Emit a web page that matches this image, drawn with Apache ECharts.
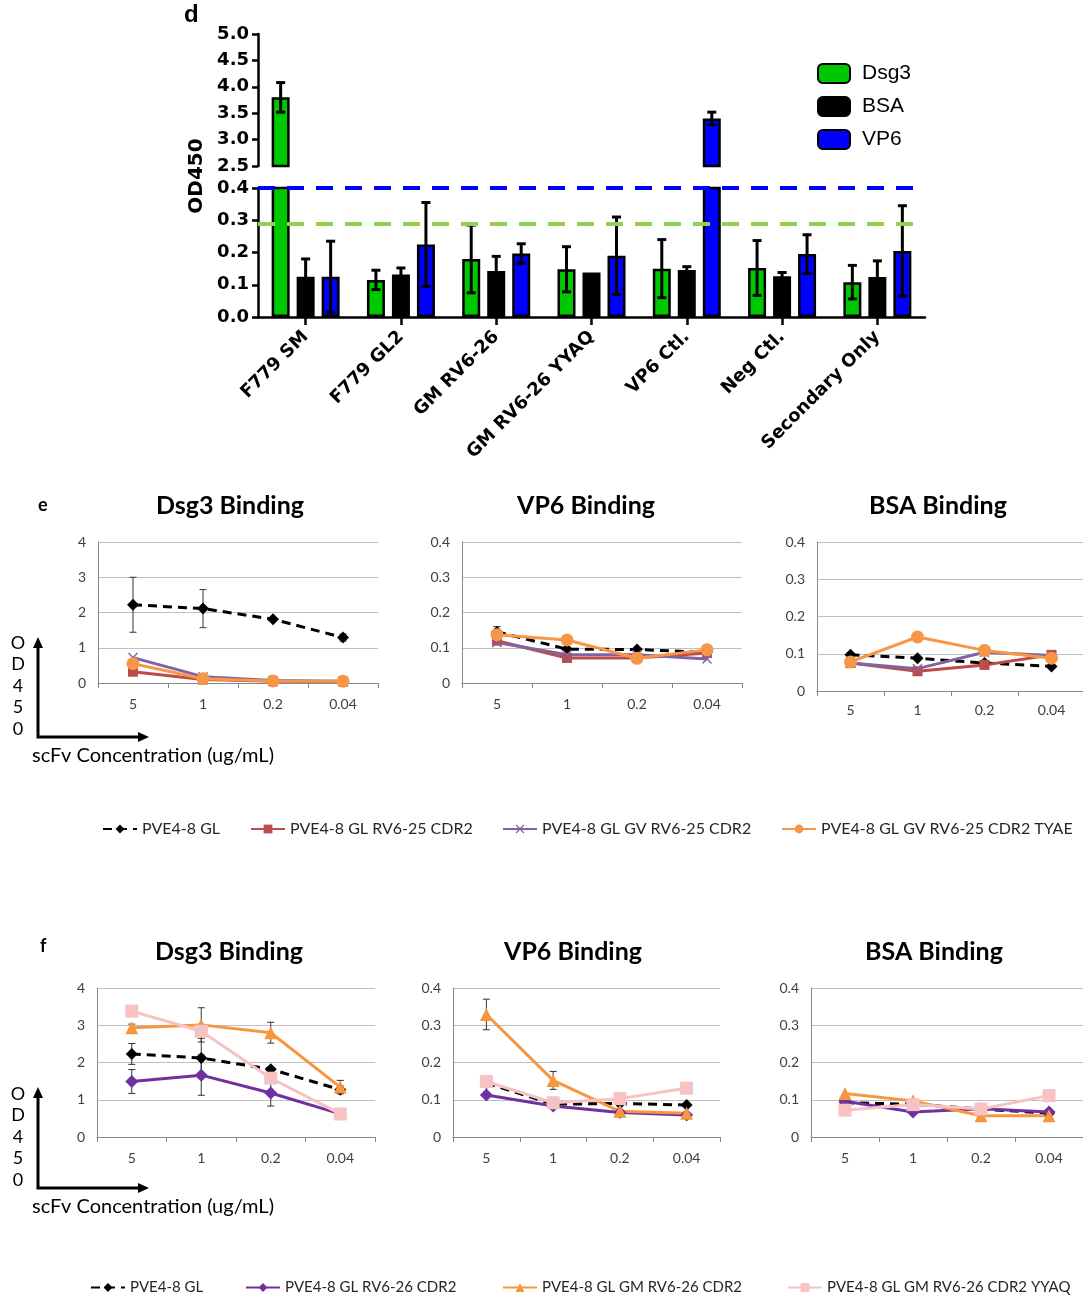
<!DOCTYPE html>
<html>
<head>
<meta charset="utf-8">
<script src="https://cdn.jsdelivr.net/npm/echarts@6/dist/echarts.min.js"></script>
<style>
  html, body { margin: 0; padding: 0; background: #fff; }
  #chart { width: 1083px; height: 1295px; }
</style>
</head>
<body>
<div id="chart"></div>
<script>
// ---------- panel d: ELISA screen (OD450) ----------
const sampleNames = ['F779 SM', 'F779 GL2', 'GM RV6-26', 'GM RV6-26 YYAQ', 'VP6 Ctl.', 'Neg Ctl.', 'Secondary Only'];
const dsg3Mean = [3.80, 0.115, 0.180, 0.148, 0.150, 0.152, 0.108];
const dsg3Err  = [0.28, 0.030, 0.105, 0.070, 0.090, 0.085, 0.052];
const bsaMean  = [0.125, 0.132, 0.143, 0.138, 0.146, 0.126, 0.124];
const bsaErr   = [0.055, 0.020, 0.045, 0.000, 0.010, 0.012, 0.050];
const vp6Mean  = [0.125, 0.225, 0.197, 0.190, 3.40, 0.195, 0.205];
const vp6Err   = [0.110, 0.130, 0.030, 0.120, 0.12, 0.060, 0.140];
const dsg3Cutoff = 0.295;
const vp6Cutoff = 0.4;
const upperTicks = [2.5, 5.0];   // upper segment of the broken axis
const lowerTicks = [0.0, 0.4];   // lower segment of the broken axis

// ---------- panels e / f: titration curves ----------
const concLabels = ['5', '1', '0.2', '0.04'];

const eNames = ['PVE4-8 GL', 'PVE4-8 GL RV6-25 CDR2', 'PVE4-8 GL GV RV6-25 CDR2', 'PVE4-8 GL GV RV6-25 CDR2 TYAE'];
const eDsg3GL   = [2.22, 2.11, 1.81, 1.29];
const eDsg3GLErr = [0.78, 0.54, 0.05, 0.10];
const eDsg3CDR2 = [0.32, 0.10, 0.05, 0.04];
const eDsg3GV   = [0.72, 0.18, 0.07, 0.05];
const eDsg3TYAE = [0.55, 0.12, 0.06, 0.05];
const eVP6GL    = [0.145, 0.096, 0.095, 0.087];
const eVP6GLErr = [0.015, 0, 0, 0];
const eVP6CDR2  = [0.120, 0.071, 0.071, 0.085];
const eVP6GV    = [0.115, 0.080, 0.080, 0.068];
const eVP6TYAE  = [0.137, 0.122, 0.070, 0.094];
const eBSAGL    = [0.097, 0.088, 0.075, 0.066];
const eBSACDR2  = [0.075, 0.053, 0.070, 0.097];
const eBSAGV    = [0.075, 0.060, 0.104, 0.095];
const eBSATYAE  = [0.078, 0.145, 0.109, 0.088];

const fNames = ['PVE4-8 GL', 'PVE4-8 GL RV6-26 CDR2', 'PVE4-8 GL GM RV6-26 CDR2', 'PVE4-8 GL GM RV6-26 CDR2 YYAQ'];
const fDsg3GL     = [2.23, 2.12, 1.82, 1.27];
const fDsg3GLErr  = [0.28, 0.53, 0.05, 0.10];
const fDsg3CDR2   = [1.49, 1.66, 1.18, 0.62];
const fDsg3CDR2Err = [0.32, 0.54, 0.35, 0];
const fDsg3GM     = [2.93, 3.01, 2.80, 1.34];
const fDsg3GMErr  = [0.10, 0.46, 0.28, 0.18];
const fDsg3YYAQ   = [3.38, 2.84, 1.58, 0.62];
const fVP6GL      = [0.145, 0.088, 0.090, 0.086];
const fVP6CDR2    = [0.113, 0.083, 0.066, 0.059];
const fVP6GM      = [0.329, 0.152, 0.069, 0.064];
const fVP6GMErr   = [0.041, 0.024, 0, 0];
const fVP6YYAQ    = [0.149, 0.092, 0.103, 0.131];
const fBSAGL      = [0.092, 0.088, 0.075, 0.064];
const fBSACDR2    = [0.096, 0.067, 0.076, 0.067];
const fBSAGM      = [0.117, 0.097, 0.057, 0.057];
const fBSAYYAQ    = [0.072, 0.087, 0.075, 0.111];

// ---------- styling ----------
const ARIAL = 'Liberation Sans, Arial, sans-serif';
const WIDE_BOLD = 'DejaVu Sans, Verdana, sans-serif';
const CALIBRI = 'Lato, Open Sans, sans-serif';
const BAR_W = 18;
const BAR_STEP = 25;          // centre-to-centre distance of bars within a group
const COLORS = {
  dsg3: '#00c800', bsa: '#000000', vp6: '#0000ff',
  black: '#000000', red: '#be4b48', lilac: '#8064a2', orange: '#f79646',
  purple: '#7030a0', orange2: '#f7963f', pink: '#f7c2c2'
};
const crossSymbol = 'path://M1,0L5,4L9,0L10,1L6,5L10,9L9,10L5,6L1,10L0,9L4,5L0,1Z';

const chart = echarts.init(document.getElementById('chart'), null, { renderer: 'canvas' });

// grids: 0 = d upper, 1 = d lower, 2-4 = e, 5-7 = f
const grids = [
  { left: 258, top: 34,  width: 667, height: 132 },
  { left: 258, top: 188, width: 667, height: 129 },
  { left: 98,  top: 542, width: 280, height: 141 },
  { left: 462, top: 542, width: 280, height: 141 },
  { left: 817, top: 542, width: 268, height: 149 },
  { left: 97,  top: 988, width: 278, height: 149 },
  { left: 453, top: 988, width: 267, height: 149 },
  { left: 811, top: 988, width: 272, height: 149 }
].map(g => Object.assign({ show: false, containLabel: false, outerBoundsMode: 'none' }, g));

function dYAxis(gridIndex, range, interval) {
  return {
    type: 'value', gridIndex, min: range[0], max: range[1], interval,
    axisLine: { show: true, lineStyle: { color: '#000', width: 2.5 } },
    axisTick: { show: true, inside: false, length: 6, lineStyle: { color: '#000', width: 2.5 } },
    splitLine: { show: false },
    axisLabel: {
      color: '#000', fontSize: 18, fontWeight: 'bold', fontFamily: WIDE_BOLD, margin: 9,
      formatter: v => v.toFixed(1)
    }
  };
}

function lineXAxis(gridIndex, labelMargin) {
  return {
    type: 'category', gridIndex, data: concLabels, boundaryGap: true,
    axisLine: { show: true, lineStyle: { color: '#868686', width: 1 } },
    axisTick: { show: true, length: 5, lineStyle: { color: '#868686' } },
    axisLabel: { color: '#404040', fontSize: 14, fontFamily: CALIBRI, margin: labelMargin },
    splitLine: { show: false }
  };
}

function lineYAxis(gridIndex, max, interval) {
  return {
    type: 'value', gridIndex, min: 0, max, interval,
    axisLine: { show: true, lineStyle: { color: '#868686', width: 1 } },
    axisTick: { show: false },
    splitLine: { show: true, lineStyle: { color: '#bfbfbf', width: 1 } },
    axisLabel: { color: '#404040', fontSize: 14, fontFamily: CALIBRI, margin: 12 }
  };
}

const xAxes = [
  { type: 'category', gridIndex: 0, data: sampleNames, show: false },
  {
    type: 'category', gridIndex: 1, data: sampleNames,
    axisLine: { show: true, lineStyle: { color: '#000', width: 2.5 } },
    axisTick: { show: true, alignWithLabel: true, length: 8, lineStyle: { color: '#000', width: 2.5 } },
    axisLabel: {
      rotate: 45, interval: 0, color: '#000', fontSize: 18, fontWeight: 'bold',
      fontFamily: WIDE_BOLD, margin: 17
    }
  },
  lineXAxis(2, 14), lineXAxis(3, 14), lineXAxis(4, 12),
  lineXAxis(5, 14), lineXAxis(6, 14), lineXAxis(7, 14)
];

const yAxes = [
  dYAxis(0, upperTicks, 0.5),
  dYAxis(1, lowerTicks, 0.1),
  lineYAxis(2, 4, 1), lineYAxis(3, 0.4, 0.1), lineYAxis(4, 0.4, 0.1),
  lineYAxis(5, 4, 1), lineYAxis(6, 0.4, 0.1), lineYAxis(7, 0.4, 0.1)
];

// ---- bar series for the broken-axis panel ----
function barSeries(name, values, color, axis, extra) {
  return Object.assign({
    name, type: 'bar', xAxisIndex: axis, yAxisIndex: axis, data: values,
    barWidth: BAR_W, barGap: ((BAR_STEP - BAR_W) / BAR_W * 100) + '%',
    clip: true,
    itemStyle: { color, borderColor: '#000', borderWidth: 2.5 },
    emphasis: { disabled: true }
  }, extra || {});
}

const cutoffLines = {
  silent: true, symbol: 'none', label: { show: false }, z: 6,
  lineStyle: { width: 4, type: [17, 12] },
  data: [
    { yAxis: vp6Cutoff, lineStyle: { color: '#0000ff', width: 4, type: [17, 12] } },
    { yAxis: dsg3Cutoff, lineStyle: { color: '#92d050', width: 4, type: [17, 12] } }
  ]
};

// error-bar items [category, slot, mean, err] limited to one axis segment
function barErrItems(means, errs, slot, range) {
  const out = [];
  means.forEach((m, i) => {
    if (errs[i] > 0 && m >= range[0] && m <= range[1]) out.push([i, slot, m, errs[i]]);
  });
  return out;
}

function barErrSeries(axis, range) {
  const items = []
    .concat(barErrItems(dsg3Mean, dsg3Err, 0, range))
    .concat(barErrItems(bsaMean, bsaErr, 1, range))
    .concat(barErrItems(vp6Mean, vp6Err, 2, range));
  return {
    type: 'custom', xAxisIndex: axis, yAxisIndex: axis, z: 4, silent: true,
    encode: { x: 0, y: 2 }, data: items,
    renderItem(params, api) {
      const cat = api.value(0), slot = api.value(1), m = api.value(2), e = api.value(3);
      const cs = params.coordSys;
      const x = api.coord([cat, m])[0] + (slot - 1) * BAR_STEP;
      const yT = Math.max(cs.y, api.coord([cat, m + e])[1]);
      const yB = Math.min(cs.y + cs.height, api.coord([cat, m - e])[1]);
      const st = { stroke: '#000', lineWidth: 3 };
      return {
        type: 'group', children: [
          { type: 'line', shape: { x1: x, y1: yT, x2: x, y2: yB }, style: st },
          { type: 'line', shape: { x1: x - 4.5, y1: yT, x2: x + 4.5, y2: yT }, style: st },
          { type: 'line', shape: { x1: x - 4.5, y1: yB, x2: x + 4.5, y2: yB }, style: st }
        ]
      };
    }
  };
}

// ---- line series for titration panels ----
function lineSeries(name, values, axis, color, symbol, size, dashed) {
  return {
    name, type: 'line', xAxisIndex: axis, yAxisIndex: axis, data: values,
    symbol, symbolSize: size, showSymbol: true,
    lineStyle: { color, width: 3, type: dashed ? [9, 6] : 'solid' },
    itemStyle: { color, borderWidth: 0 },
    emphasis: { disabled: true }, silent: true
  };
}

function lineErrSeries(axis, pairs) {
  const items = [];
  pairs.forEach(([means, errs]) => {
    means.forEach((m, i) => { if (errs[i] > 0) items.push([i, m, errs[i]]); });
  });
  return {
    type: 'custom', xAxisIndex: axis, yAxisIndex: axis, z: 3, silent: true,
    encode: { x: 0, y: 1 }, data: items,
    renderItem(params, api) {
      const cat = api.value(0), m = api.value(1), e = api.value(2);
      const x = api.coord([cat, m])[0];
      const yT = api.coord([cat, m + e])[1];
      const yB = api.coord([cat, m - e])[1];
      const st = { stroke: '#333', lineWidth: 1 };
      return {
        type: 'group', children: [
          { type: 'line', shape: { x1: x, y1: yT, x2: x, y2: yB }, style: st },
          { type: 'line', shape: { x1: x - 3.5, y1: yT, x2: x + 3.5, y2: yT }, style: st },
          { type: 'line', shape: { x1: x - 3.5, y1: yB, x2: x + 3.5, y2: yB }, style: st }
        ]
      };
    }
  };
}

function ePanel(axis, gl, cdr2, gv, tyae) {
  return [
    lineSeries(eNames[0], gl, axis, COLORS.black, 'diamond', 12, true),
    lineSeries(eNames[1], cdr2, axis, COLORS.red, 'rect', 10, false),
    lineSeries(eNames[2], gv, axis, COLORS.lilac, crossSymbol, 10, false),
    lineSeries(eNames[3], tyae, axis, COLORS.orange, 'circle', 13, false)
  ];
}

function fPanel(axis, gl, cdr2, gm, yyaq) {
  return [
    lineSeries(fNames[0], gl, axis, COLORS.black, 'diamond', 12, true),
    lineSeries(fNames[1], cdr2, axis, COLORS.purple, 'diamond', 13, false),
    lineSeries(fNames[2], gm, axis, COLORS.orange2, 'triangle', 13, false),
    lineSeries(fNames[3], yyaq, axis, COLORS.pink, 'rect', 13, false)
  ];
}

const series = [
  barSeries('Dsg3', dsg3Mean, COLORS.dsg3, 0),
  barSeries('BSA', bsaMean, COLORS.bsa, 0),
  barSeries('VP6', vp6Mean, COLORS.vp6, 0),
  barSeries('Dsg3', dsg3Mean, COLORS.dsg3, 1, { markLine: cutoffLines }),
  barSeries('BSA', bsaMean, COLORS.bsa, 1),
  barSeries('VP6', vp6Mean, COLORS.vp6, 1),
  barErrSeries(0, upperTicks),
  barErrSeries(1, [lowerTicks[0], lowerTicks[1] - 0.0001]),

  ...ePanel(2, eDsg3GL, eDsg3CDR2, eDsg3GV, eDsg3TYAE),
  lineErrSeries(2, [[eDsg3GL, eDsg3GLErr]]),
  ...ePanel(3, eVP6GL, eVP6CDR2, eVP6GV, eVP6TYAE),
  lineErrSeries(3, [[eVP6GL, eVP6GLErr]]),
  ...ePanel(4, eBSAGL, eBSACDR2, eBSAGV, eBSATYAE),

  ...fPanel(5, fDsg3GL, fDsg3CDR2, fDsg3GM, fDsg3YYAQ),
  lineErrSeries(5, [[fDsg3GL, fDsg3GLErr], [fDsg3CDR2, fDsg3CDR2Err], [fDsg3GM, fDsg3GMErr]]),
  ...fPanel(6, fVP6GL, fVP6CDR2, fVP6GM, fVP6YYAQ),
  lineErrSeries(6, [[fVP6GM, fVP6GMErr]]),
  ...fPanel(7, fBSAGL, fBSACDR2, fBSAGM, fBSAYYAQ)
];

// ---- legends ----
const legends = [{
  left: 812, top: 58, orient: 'vertical', selectedMode: false,
  data: ['Dsg3', 'BSA', 'VP6'], icon: 'roundRect',
  itemWidth: 32, itemHeight: 19, itemGap: 12,
  textStyle: { fontSize: 21, fontFamily: ARIAL, color: '#000', padding: [0, 0, 0, 7], lineHeight: 21 }
}];
function lineLegend(name, left, top, size) {
  return {
    left, top, selectedMode: false, data: [name],
    itemWidth: 34, itemHeight: 11, itemGap: 0,
    textStyle: { fontSize: size, fontFamily: CALIBRI, color: '#262626' }
  };
}
[97, 245, 497, 776].forEach((x, i) => legends.push(lineLegend(eNames[i], x, 816, 16)));
[85, 240, 497, 782].forEach((x, i) => legends.push(lineLegend(fNames[i], x, 1275, 15)));

// ---- titles, panel letters, axis annotations ----
function txt(text, x, y, font, align, vAlign, extra) {
  return Object.assign({
    type: 'text', x, y, silent: true,
    style: { text, font, fill: '#000', align: align, verticalAlign: vAlign,
             textAlign: align, textVerticalAlign: vAlign, lineHeight: 21.5 }
  }, extra || {});
}
function arrowGroup(x0, yTop, yBottom, xRight) {
  const st = { stroke: '#000', lineWidth: 3 };
  return [
    { type: 'polyline', silent: true, shape: { points: [[x0, yTop + 8], [x0, yBottom], [xRight - 8, yBottom]] }, style: Object.assign({ fill: null }, st) },
    { type: 'polygon', silent: true, shape: { points: [[x0, yTop], [x0 - 5, yTop + 11], [x0 + 5, yTop + 11]] }, style: { fill: '#000' } },
    { type: 'polygon', silent: true, shape: { points: [[xRight, yBottom], [xRight - 11, yBottom - 5], [xRight - 11, yBottom + 5]] }, style: { fill: '#000' } }
  ];
}
const TITLE_FONT = 'bold 25px ' + CALIBRI;
const graphics = [
  txt('d', 184, 15, 'bold 24px ' + ARIAL, 'left', 'middle'),
  txt('OD450', 197, 176, 'bold 20px ' + WIDE_BOLD, 'center', 'middle', { rotation: Math.PI / 2 }),

  txt('e', 38, 505, 'bold 18px ' + CALIBRI, 'left', 'middle'),
  txt('Dsg3 Binding', 230, 506, TITLE_FONT, 'center', 'middle'),
  txt('VP6 Binding', 586, 506, TITLE_FONT, 'center', 'middle'),
  txt('BSA Binding', 938, 506, TITLE_FONT, 'center', 'middle'),
  txt('O\nD\n4\n5\n0', 18, 686, '18px ' + CALIBRI, 'center', 'middle'),
  txt('scFv Concentration (ug/mL)', 32, 756, '20px ' + CALIBRI, 'left', 'middle'),
  ...arrowGroup(38, 637, 737, 149),

  txt('f', 40, 946, 'bold 18px ' + CALIBRI, 'left', 'middle'),
  txt('Dsg3 Binding', 229, 952, TITLE_FONT, 'center', 'middle'),
  txt('VP6 Binding', 573, 952, TITLE_FONT, 'center', 'middle'),
  txt('BSA Binding', 934, 952, TITLE_FONT, 'center', 'middle'),
  txt('O\nD\n4\n5\n0', 18, 1137, '18px ' + CALIBRI, 'center', 'middle'),
  txt('scFv Concentration (ug/mL)', 32, 1207, '20px ' + CALIBRI, 'left', 'middle'),
  ...arrowGroup(38, 1087, 1188, 149)
];

chart.setOption({
  animation: false,
  backgroundColor: '#ffffff',
  grid: grids,
  xAxis: xAxes,
  yAxis: yAxes,
  legend: legends,
  series,
  graphic: { elements: graphics }
});
</script>
</body>
</html>
